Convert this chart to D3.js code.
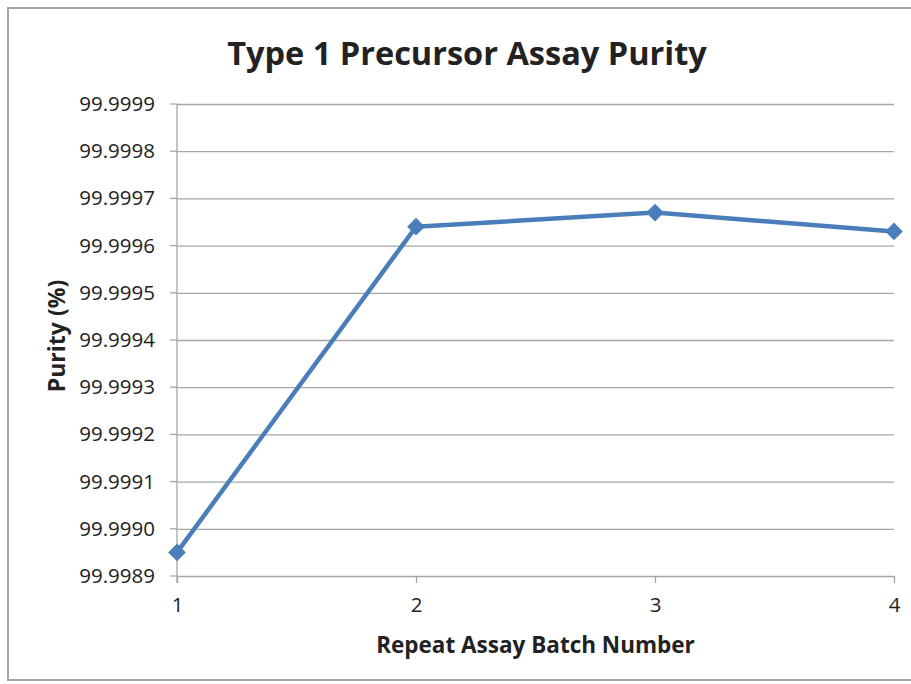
<!DOCTYPE html>
<meta charset="utf-8">
<script src="https://d3js.org/d3.v7.min.js"></script>
<style>
  body { margin: 0; background: #fff; }
  text { font-family: "Open Sans", sans-serif; fill: #222; }
</style>
<div id="chart"></div>
<script>

// data
const batches = [1, 2, 3, 4]
const purity = [99.99895, 99.99964, 99.99967, 99.99963]
const yTicks = [99.9989, 99.9990, 99.9991, 99.9992, 99.9993, 99.9994,
                99.9995, 99.9996, 99.9997, 99.9998, 99.9999]

const W = 911, H = 684
const margin = {top: 104, right: 17, bottom: 108, left: 177}
const width = W - margin.left - margin.right,
    height = H - margin.top - margin.bottom

const svg = d3.select("#chart").append("svg")
    .attr("width", W).attr("height", H)

// outer chart frame
svg.append("rect")
    .attr("x", 8).attr("y", 8)
    .attr("width", W + 20).attr("height", 672)
    .attr("fill", "none").attr("stroke", "#a6a6a6").attr("stroke-width", 2)

const g = svg.append("g")
    .attr("transform", "translate(" + margin.left + "," + margin.top + ")")

const x = d3.scaleLinear().domain([1, 4]).range([0, width])
const y = d3.scaleLinear().domain([99.9989, 99.9999]).range([height, 0])

// gridlines + y ticks
g.append("g")
    .call(d3.axisLeft(y).tickValues(yTicks).tickFormat(d3.format(".4f"))
      .tickSize(-width).tickSizeOuter(0).tickPadding(22))
    .call(a => a.select(".domain").remove())
    .call(a => a.selectAll("line").attr("stroke", "#a6a6a6").attr("stroke-width", 1.3))
    .call(a => a.selectAll("text").style("font-size", "20.5px").attr("fill", "#333"))

// y tick stubs
g.append("g")
    .selectAll("line").data(yTicks).join("line")
    .attr("x1", -7).attr("x2", 0)
    .attr("y1", d => y(d)).attr("y2", d => y(d))
    .attr("stroke", "#a6a6a6").attr("stroke-width", 1.3)

// vertical axis line
g.append("line")
    .attr("x1", 0).attr("x2", 0).attr("y1", 0).attr("y2", height + 7)
    .attr("stroke", "#a6a6a6").attr("stroke-width", 1.3)

// x axis
g.append("g")
    .attr("transform", "translate(0," + height + ")")
    .call(d3.axisBottom(x).tickValues(batches).tickFormat(d3.format("d"))
      .tickSize(7).tickSizeOuter(0).tickPadding(14))
    .call(a => a.select(".domain").remove())
    .call(a => a.selectAll("line").attr("stroke", "#a6a6a6").attr("stroke-width", 1.3))
    .call(a => a.selectAll("text").style("font-size", "20.5px").attr("fill", "#333"))

// series line
const pts = batches.map((b, i) => [b, purity[i]])
g.append("path")
    .datum(pts)
    .attr("fill", "none")
    .attr("stroke", "#4a7ebb")
    .attr("stroke-width", 4.5)
    .attr("stroke-linejoin", "round")
    .attr("d", d3.line().x(d => x(d[0])).y(d => y(d[1])))

// diamond markers
g.selectAll(".mark").data(pts).join("path")
    .attr("class", "mark")
    .attr("transform", d => "translate(" + x(d[0]) + "," + y(d[1]) + ")")
    .attr("d", d3.symbol().type(d3.symbolDiamond2).size(200))
    .attr("fill", "#4a7ebb")

// titles
svg.append("text")
    .attr("x", 467).attr("y", 65)
    .attr("text-anchor", "middle")
    .style("font-size", "32.5px").style("font-weight", "bold")
    .attr("fill", "#000")
    .text("Type 1 Precursor Assay Purity")

svg.append("text")
    .attr("x", margin.left + width / 2).attr("y", 653)
    .attr("text-anchor", "middle")
    .style("font-size", "22.5px").style("font-weight", "bold")
    .attr("fill", "#000")
    .text("Repeat Assay Batch Number")

svg.append("text")
    .attr("transform", "translate(65,336) rotate(-90)")
    .attr("text-anchor", "middle")
    .style("font-size", "23px").style("font-weight", "bold")
    .attr("fill", "#000")
    .text("Purity (%)")

</script>
